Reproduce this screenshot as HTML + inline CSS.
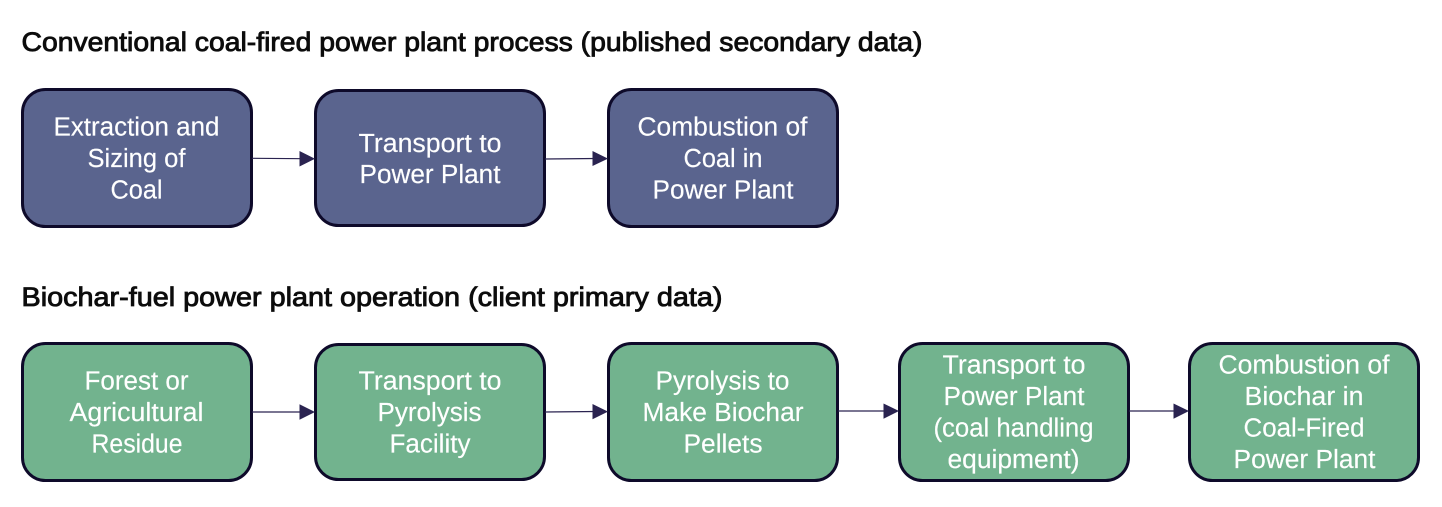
<!DOCTYPE html>
<html><head><meta charset="utf-8">
<style>
html,body{margin:0;padding:0;background:#fff;width:1442px;height:507px;overflow:hidden}
svg{display:block}
text{font-family:"Liberation Sans",sans-serif}
.h{font-size:26.500px;fill:#0c0c0c;stroke:#0c0c0c;stroke-width:.85px}
.t{font-size:25.500px;fill:#fff;stroke:#fff;stroke-width:.15px}
.b{stroke:#0e0a2a;stroke-width:3}
.n{fill:#5a648e}.g{fill:#72b38e}
.l{stroke:#2a2350;stroke-width:1.200;fill:none}
.a{fill:#2a2350}
</style></head><body>
<svg width="1442" height="507" viewBox="0 0 1442 507" xmlns="http://www.w3.org/2000/svg">
<rect width="1442" height="507" fill="#fff"/>
<text class="h" x="21.500" y="51" textLength="901" lengthAdjust="spacingAndGlyphs">Conventional coal-fired power plant process (published secondary data)</text>
<text class="h" x="21.500" y="306" textLength="701" lengthAdjust="spacingAndGlyphs">Biochar-fuel power plant operation (client primary data)</text>

<rect class="b n" x="22.500" y="89.500" width="229" height="137" rx="23"/>
<rect class="b n" x="315.500" y="90.500" width="229" height="135" rx="23"/>
<rect class="b n" x="608.500" y="89.500" width="229" height="137" rx="23"/>
<rect class="b g" x="22.500" y="343.500" width="229" height="137" rx="23"/>
<rect class="b g" x="315.500" y="344.500" width="229" height="135" rx="23"/>
<rect class="b g" x="608.500" y="343.500" width="229" height="137" rx="23"/>
<rect class="b g" x="899.500" y="343.500" width="229" height="137" rx="23"/>
<rect class="b g" x="1189.500" y="343.500" width="229" height="137" rx="23"/>

<path class="l" d="M252 158.300L303 158.700M545 159L596 158.500M252 412H303M545 412L596 411.500M838 411H887M1129 411H1177"/>
<path class="a" d="M299.500 151L315 158.800L299.500 166.500ZM592.500 151L608 158.600L592.500 166ZM299.500 404.300L315 412L299.500 419.700ZM592.500 404L608 411.600L592.500 419.200ZM883.500 403.500L899 411L883.500 418.700ZM1173.500 403.500L1189 411L1173.500 418.700Z"/>

<text class="t" x="53.500" y="135.500" textLength="166" lengthAdjust="spacingAndGlyphs">Extraction and</text>
<text class="t" x="87.500" y="167" textLength="98" lengthAdjust="spacingAndGlyphs">Sizing of</text>
<text class="t" x="110.500" y="198.500" textLength="52" lengthAdjust="spacingAndGlyphs">Coal</text>
<text class="t" x="358.500" y="152" textLength="143" lengthAdjust="spacingAndGlyphs">Transport to</text>
<text class="t" x="359.500" y="183" textLength="141" lengthAdjust="spacingAndGlyphs">Power Plant</text>
<text class="t" x="637.500" y="135.500" textLength="170" lengthAdjust="spacingAndGlyphs">Combustion of</text>
<text class="t" x="683.500" y="167" textLength="79" lengthAdjust="spacingAndGlyphs">Coal in</text>
<text class="t" x="652.500" y="198.500" textLength="141" lengthAdjust="spacingAndGlyphs">Power Plant</text>

<text class="t" x="84.500" y="389.500" textLength="104" lengthAdjust="spacingAndGlyphs">Forest or</text>
<text class="t" x="69.500" y="421" textLength="134" lengthAdjust="spacingAndGlyphs">Agricultural</text>
<text class="t" x="91.500" y="452.500" textLength="91" lengthAdjust="spacingAndGlyphs">Residue</text>
<text class="t" x="358.500" y="389.500" textLength="143" lengthAdjust="spacingAndGlyphs">Transport to</text>
<text class="t" x="377.500" y="421" textLength="104" lengthAdjust="spacingAndGlyphs">Pyrolysis</text>
<text class="t" x="389.500" y="452.500" textLength="81" lengthAdjust="spacingAndGlyphs">Facility</text>
<text class="t" x="655.500" y="389.500" textLength="134" lengthAdjust="spacingAndGlyphs">Pyrolysis to</text>
<text class="t" x="642.500" y="421" textLength="161" lengthAdjust="spacingAndGlyphs">Make Biochar</text>
<text class="t" x="683.500" y="452.500" textLength="79" lengthAdjust="spacingAndGlyphs">Pellets</text>
<text class="t" x="942.500" y="373.500" textLength="143" lengthAdjust="spacingAndGlyphs">Transport to</text>
<text class="t" x="943.500" y="405" textLength="141" lengthAdjust="spacingAndGlyphs">Power Plant</text>
<text class="t" x="933.500" y="436.500" textLength="160" lengthAdjust="spacingAndGlyphs">(coal handling</text>
<text class="t" x="947.500" y="468" textLength="132" lengthAdjust="spacingAndGlyphs">equipment)</text>
<text class="t" x="1218.500" y="373.500" textLength="171" lengthAdjust="spacingAndGlyphs">Combustion of</text>
<text class="t" x="1244.500" y="405" textLength="119" lengthAdjust="spacingAndGlyphs">Biochar in</text>
<text class="t" x="1243.500" y="436.500" textLength="121" lengthAdjust="spacingAndGlyphs">Coal-Fired</text>
<text class="t" x="1233.500" y="468" textLength="142" lengthAdjust="spacingAndGlyphs">Power Plant</text>
</svg>
</body></html>
